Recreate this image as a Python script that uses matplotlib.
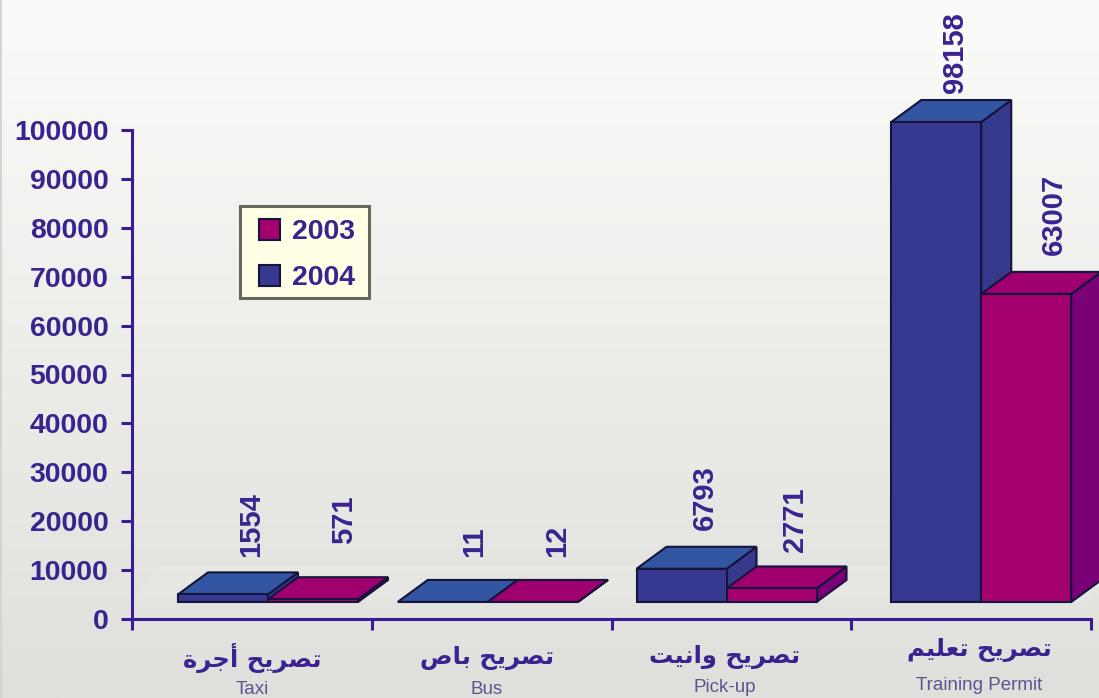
import numpy as np
from matplotlib import pyplot as plt
from matplotlib.patches import Patch, Rectangle

W, H = 1099, 698

categories_ar = ['تصريح أجرة', 'تصريح باص', 'تصريح وانيت', 'تصريح تعليم']
categories_en = ['Taxi', 'Bus', 'Pick-up', 'Training Permit']
values_2003 = [571, 12, 2771, 63007]
values_2004 = [1554, 11, 6793, 98158]
y_ticks = [0, 10000, 20000, 30000, 40000, 50000, 60000, 70000, 80000, 90000, 100000]

# layout, in pixels of the picture
bar_left = [46, 26, 25, 40]
offset_2003 = [(76, 33), (69, 23), (68, 14), (73, 17)]
offset_2004 = [(73, 15), (76, 23), (68, 17), (64, 7)]
label_x = [252, 487, 725, 979]
label_ar_y = [658, 658, 657, 650]
label_en_y = [689, 689, 687, 685]

INK = '#3a2390'
AXIS = '#3c1a94'
EDGE = '#14143c'
BLUE = ('#36398f', '#3356a2', '#36398c')
MAGENTA = ('#a4006f', '#a0006f', '#7a0078')

plt.rcParams['font.family'] = ['Liberation Sans', 'DejaVu Sans']

# (isolated, final, initial, medial) presentation forms
FORMS = {
    'ت': (0xFE95, 0xFE96, 0xFE97, 0xFE98), 'ص': (0xFEB9, 0xFEBA, 0xFEBB, 0xFEBC),
    'ي': (0xFEF1, 0xFEF2, 0xFEF3, 0xFEF4), 'ح': (0xFEA1, 0xFEA2, 0xFEA3, 0xFEA4),
    'ج': (0xFE9D, 0xFE9E, 0xFE9F, 0xFEA0), 'ب': (0xFE8F, 0xFE90, 0xFE91, 0xFE92),
    'ن': (0xFEE5, 0xFEE6, 0xFEE7, 0xFEE8), 'ع': (0xFEC9, 0xFECA, 0xFECB, 0xFECC),
    'ل': (0xFEDD, 0xFEDE, 0xFEDF, 0xFEE0), 'م': (0xFEE1, 0xFEE2, 0xFEE3, 0xFEE4),
    'ر': (0xFEAD, 0xFEAE), 'أ': (0xFE83, 0xFE84), 'ة': (0xFE93, 0xFE94),
    'ا': (0xFE8D, 0xFE8E), 'و': (0xFEED, 0xFEEE),
}

def shapeArabic(text):
    # matplotlib does no shaping, so pick the joined forms and reverse the order
    out = []
    for word in text.split(' '):
        shaped = []
        for i, ch in enumerate(word):
            forms = FORMS[ch]
            joins_prev = i > 0 and len(FORMS[word[i - 1]]) == 4
            joins_next = i < len(word) - 1 and len(forms) == 4
            idx = (1 if joins_prev else 0) if not joins_next else (3 if joins_prev else 2)
            shaped.append(chr(forms[idx]))
        out.append(''.join(shaped[::-1]))
    return ' '.join(out[::-1])

fig = plt.figure(figsize=(W / 100, H / 100), dpi=100)

bg = fig.add_axes([0, 0, 1, 1], zorder=0)
shade = np.linspace(0, 1, 256).reshape(-1, 1)
rgb = np.array([251, 251, 249]) + shade[..., None] * (np.array([223, 224, 219]) - np.array([251, 251, 249]))
bg.imshow(rgb / 255, aspect='auto', extent=(0, W, H, 0))
bg.add_patch(Rectangle((0, 0), 2, H, fc='#d4d4d0', ec='none'))
bg.set_xlim(0, W)
bg.set_ylim(H, 0)
bg.axis('off')

ax = fig.add_axes([132 / W, 1 - 619 / H, (1091 - 132) / W, (619 - 130) / H], zorder=1)
ax.patch.set_alpha(0)
ax.set_xlim(0, 4)
ax.set_ylim(0, 100000)

px_x = 4 / (1091 - 132)
px_y = 100000 / (619 - 130)
floor = 17 * px_y
bar_w = 90 * px_x
depth_x = 30 * px_x
depth_y = 22 * px_y

# faint floor plane behind the bars
ax.fill([0, depth_x, 4, 4], [floor, floor + depth_y + 15 * px_y, floor + depth_y + 15 * px_y, floor],
        fc='white', ec='none', alpha=0.12, zorder=1)

def drawBars(values, shift, colors, offsets, z):
    for i, v in enumerate(values):
        x0 = i + bar_left[i] * px_x + shift * bar_w
        x1 = x0 + bar_w
        y0 = floor
        y1 = floor + v
        ax.fill([x1, x1 + depth_x, x1 + depth_x, x1], [y0, y0 + depth_y, y1 + depth_y, y1],
                fc=colors[2], ec=EDGE, lw=1.5, clip_on=False, zorder=z)
        ax.fill([x0, x0 + depth_x, x1 + depth_x, x1], [y1, y1 + depth_y, y1 + depth_y, y1],
                fc=colors[1], ec=EDGE, lw=1.5, clip_on=False, zorder=z)
        ax.bar(x0, v, width=bar_w, bottom=y0, align='edge', color=colors[0], edgecolor=EDGE,
               lw=1.5, clip_on=False, zorder=z)
        ax.annotate(str(v), xy=(x0, y1 + depth_y), xytext=offsets[i], textcoords='offset pixels',
                    rotation=90, ha='center', va='bottom', color=INK, fontsize=21,
                    fontweight='bold', annotation_clip=False, zorder=z + 5)

drawBars(values_2004, 0, BLUE, offset_2004, 3)
drawBars(values_2003, 1, MAGENTA, offset_2003, 4)

for side in ['top', 'right']:
    ax.spines[side].set_visible(False)
for side in ['left', 'bottom']:
    ax.spines[side].set_color(AXIS)
    ax.spines[side].set_linewidth(2.2)

ax.set_yticks(y_ticks)
ax.set_xticks(range(5))
ax.set_xticklabels([])
ax.tick_params(axis='y', length=8, width=2.2, color=AXIS, labelcolor=INK, labelsize=20.4, pad=9)
ax.tick_params(axis='x', length=8, width=2.2, color=AXIS)
for t in ax.get_yticklabels():
    t.set_fontweight('bold')

for i in range(4):
    fig.text(label_x[i] / W, 1 - label_ar_y[i] / H, shapeArabic(categories_ar[i]), ha='center', va='center',
             family='DejaVu Sans', fontweight='bold', fontsize=17.5, color=INK)
    fig.text(label_x[i] / W, 1 - label_en_y[i] / H, categories_en[i], ha='center', va='center',
             fontsize=13.5, color='#5a5490')

# legend frame is separate since its side margins are wider than the top and bottom ones
ax.add_patch(Rectangle((240 / W, 1 - 298 / H), 129 / W, 92 / H, transform=fig.transFigure, fc='#ffffe6',
                       ec='#66665c', lw=2.2, clip_on=False, zorder=9))
handles = [Patch(fc=MAGENTA[0], ec=EDGE, lw=1.5, label='2003'), Patch(fc=BLUE[0], ec=EDGE, lw=1.5, label='2004')]
leg = ax.legend(handles=handles, loc='upper left', bbox_to_anchor=(259 / W, 1 - 219 / H),
                bbox_transform=fig.transFigure, frameon=False, fontsize=20.4, handlelength=0.74,
                handleheight=0.74, handletextpad=0.42, labelspacing=0.71, borderaxespad=0, borderpad=0)
leg.set_zorder(10)
for t in leg.get_texts():
    t.set_color(INK)
    t.set_fontweight('bold')

fig.savefig('out.png', dpi=100)
